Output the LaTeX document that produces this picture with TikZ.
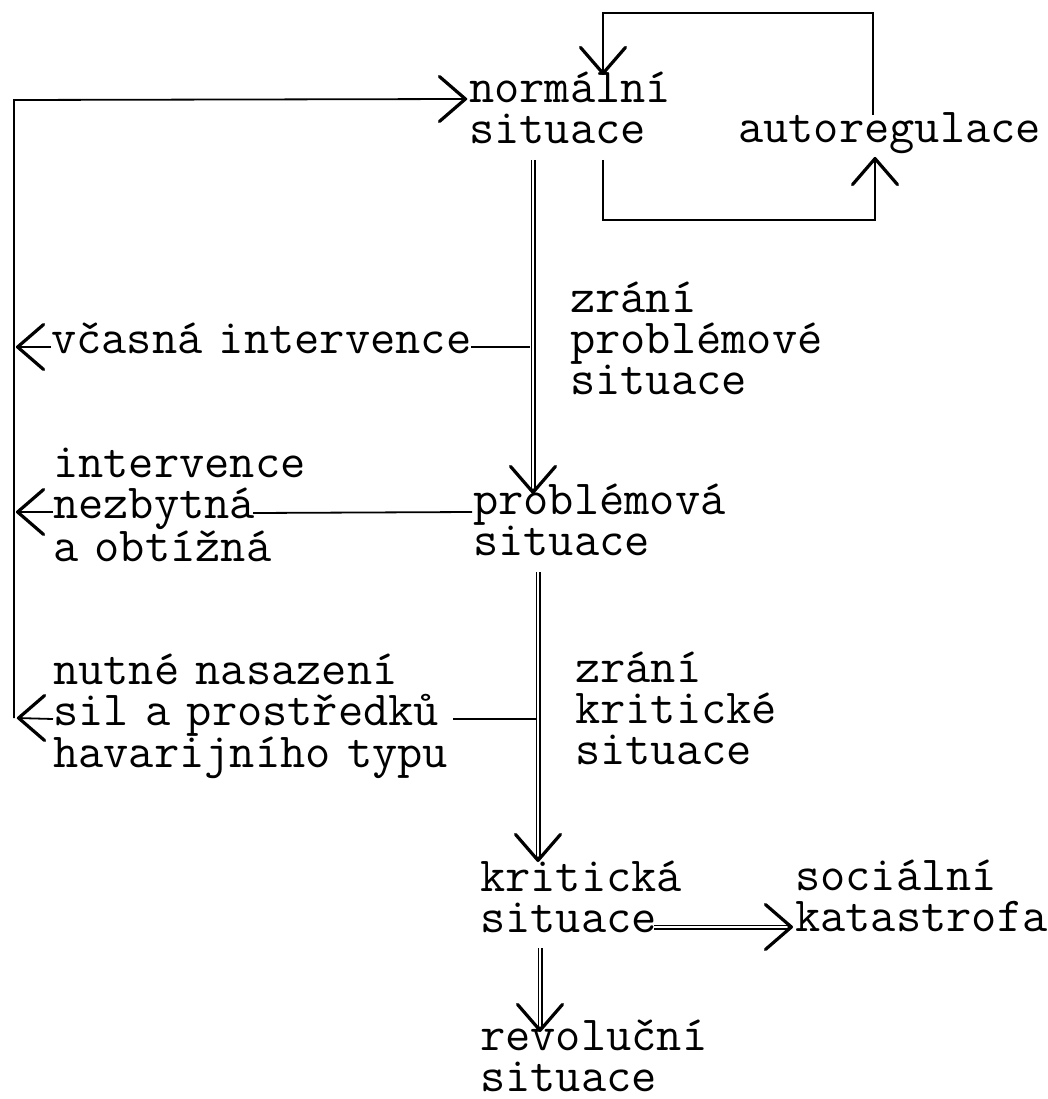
\documentclass[tikz,border=0pt]{standalone}
\usepackage{fontspec}
\usetikzlibrary{arrows.meta,calc}
\newcommand\tyfont{\ttfamily\fontsize{49}{41}\selectfont}
\begin{document}
\lineskiplimit=-100pt
\begin{tikzpicture}[x=1pt,y=-1pt,
  txt/.style={anchor=base west, inner sep=0pt, align=left, text width=#1,
    font=\tyfont},
  conn/.style={line width=1.8pt, line join=miter},
  dbl/.style={double, double distance=2.4pt, line width=1.3pt},
  head/.style={line width=3.2pt, line cap=round,
    -{Straight Barb[length=26pt,width=45pt,round]}},
]
\useasboundingbox[fill=white] (0,0) rectangle (1048,1099);

% text nodes
\node[txt=230pt] (norm) at (469,103) {normální\\situace};
\node[txt=310pt] (auto) at (738,143) {autoregulace};
\node[txt=260pt] (zr1) at (570,312) {zrání\\problémové\\situace};
\node[txt=440pt] (vcas) at (51,353) {včasná intervence};
\node[txt=260pt] (nezb) at (53,477) {intervence\\nezbytná\\a obtížná};
\node[txt=260pt] (prob) at (473,514) {problémová\\situace};
\node[txt=420pt] (nutne) at (53,684) {nutné nasazení\\sil a prostředků\\havarijního typu};
\node[txt=230pt] (zr2) at (575,682) {zrání\\kritické\\situace};
\node[txt=230pt] (krit) at (480,891) {kritická\\situace};
\node[txt=260pt] (soc) at (795,890) {sociální\\katastrofa};
\node[txt=240pt] (rev) at (480,1050) {revoluční\\situace};

% coordinates
\coordinate (normin) at ($(norm.base west)+(-2,-4)$);
\coordinate (normin0) at ($(normin)+(-4,0)$);
\coordinate (lt) at (14,100);
\coordinate (lb) at (14,718);
\coordinate (vcasL) at (16,347);
\coordinate (nezbL) at (16,512);
\coordinate (nutL) at (17,718);
\coordinate (vcasS) at ($(vcas.base west)+(0,-6)$);
\coordinate (nezbS) at ($(nezb.base west)+(0,35)$);
\coordinate (nutS) at ($(nutne.base west)+(0,35)$);
\coordinate (vcasE) at (471,347);
\coordinate (nezbE) at (253,513);
\coordinate (probW) at ($(prob.base west)+(-1,-2)$);
\coordinate (nutE) at (453,719);

% left feedback line
\draw[conn] (lb) -- (lt) -- (normin);
\draw[head] (normin0) -- (normin);
\draw[conn] (vcasS) -- (vcasL);
\draw[head] ($(vcasL)+(4,0)$) -- (vcasL);
\draw[conn] (nezbS) -- (nezbL);
\draw[head] ($(nezbL)+(4,0)$) -- (nezbL);
\draw[conn] (nutS) -- (nutL);
\draw[head] ($(nutL)+(4,0)$) -- (nutL);

% horizontal connectors
\draw[conn] (vcasE) -- (530,347);
\draw[conn] (nezbE) -- (probW);
\draw[conn] (nutE) -- (536,719);

% autoregulation loop
\coordinate (autotop) at (873,115);
\coordinate (a1) at (873,13);
\coordinate (a2) at (603,13);
\coordinate (normtop) at (603,75);
\draw[conn] (autotop) -- (a1) -- (a2) -- (normtop);
\draw[head] ($(normtop)+(0,-4)$) -- (normtop);
\coordinate (b0) at (603,160);
\coordinate (b1) at (603,220);
\coordinate (b2) at (875,220);
\coordinate (autobot) at (875,157);
\draw[conn] (b0) -- (b1) -- (b2) -- (autobot);
\draw[head] ($(autobot)+(0,4)$) -- (autobot);

% double arrows
\coordinate (d1s) at (533,160);
\coordinate (d1e) at (533,490);
\coordinate (d1t) at (533,494);
\draw[dbl] (d1s) -- (d1e);
\draw[head] (d1e) -- (d1t);

\coordinate (d2s) at (538,572);
\coordinate (d2e) at (538,858);
\coordinate (d2t) at (538,862);
\draw[dbl] (d2s) -- (d2e);
\draw[head] (d2e) -- (d2t);

\coordinate (d3s) at (540,948);
\coordinate (d3e) at (540,1028);
\coordinate (d3t) at (540,1032);
\draw[dbl] (d3s) -- (d3e);
\draw[head] (d3e) -- (d3t);

\coordinate (d4s) at (654,927);
\coordinate (d4e) at (789,927);
\coordinate (d4t) at (793,927);
\draw[dbl] (d4s) -- (d4e);
\draw[head] (d4e) -- (d4t);
\end{tikzpicture}
\end{document}
